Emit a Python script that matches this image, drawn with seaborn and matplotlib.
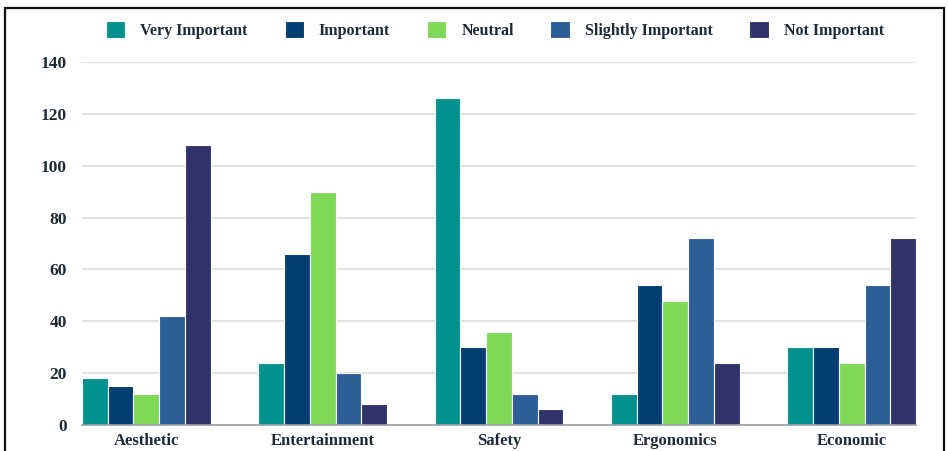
import matplotlib
matplotlib.use("Agg")
import matplotlib.pyplot as plt
from matplotlib.patches import Rectangle
import seaborn as sns
import pandas as pd

categories = ["Aesthetic", "Entertainment", "Safety", "Ergonomics", "Economic"]
levels = ["Very Important", "Important", "Neutral", "Slightly Important", "Not Important"]
very_important = [18, 24, 126, 12, 30]
important = [15, 66, 30, 54, 30]
neutral = [12, 90, 36, 48, 24]
slightly_important = [42, 20, 12, 72, 54]
not_important = [108, 8, 6, 24, 72]
colors = ["#00918F", "#013E71", "#7ED957", "#2E5E98", "#31346B"]

series = [very_important, important, neutral, slightly_important, not_important]
df = pd.DataFrame(
    [(c, lvl, v) for lvl, vals in zip(levels, series) for c, v in zip(categories, vals)],
    columns=["Category", "Level", "Count"],
)

sns.set_theme(style="white")
plt.rcParams["font.family"] = ["Liberation Serif", "DejaVu Serif"]

fig = plt.figure(figsize=(9.48, 4.51), dpi=100)
ax = fig.add_axes([82 / 948, 1 - 425 / 451, 834 / 948, 363 / 451])

sns.barplot(
    data=df, x="Category", y="Count", hue="Level", hue_order=levels,
    order=categories, palette=colors, width=0.73, ax=ax,
    edgecolor="white", linewidth=0.8, saturation=1, legend=True,
)

ax.set_xlim(-0.365, 4.365)
ax.set_ylim(0, 140)
ax.set_yticks(range(0, 141, 20))
ax.yaxis.grid(True, color="#D9DCDF", linewidth=1.2)
ax.set_axisbelow(True)
for s in ["top", "right", "left"]:
    ax.spines[s].set_visible(False)
ax.spines["bottom"].set_color("#9A9EA3")
ax.spines["bottom"].set_linewidth(1.2)
ax.set_xlabel("")
ax.set_ylabel("")
ax.tick_params(axis="both", length=0, labelcolor="#1F2A37")
ax.tick_params(axis="y", pad=11, labelsize=12.5)
ax.tick_params(axis="x", pad=6, labelsize=12)
for lab in ax.get_xticklabels() + ax.get_yticklabels():
    lab.set_fontweight("bold")

handles, labels = ax.get_legend_handles_labels()
ax.get_legend().remove()
leg = fig.legend(
    handles, labels, loc="center", bbox_to_anchor=(495 / 948, 1 - 30 / 451),
    ncol=5, frameon=False, handlelength=1.2, handleheight=1.25,
    columnspacing=2.3, handletextpad=0.95,
    prop={"family": ["Liberation Serif"], "weight": "bold", "size": 11.5},
)
for t in leg.get_texts():
    t.set_color("#1F2A37")

fig.patches.append(Rectangle(
    (5 / 948, -0.05), 939 / 948, 1.05 - 8 / 451,
    transform=fig.transFigure, fill=False, edgecolor="#111111", linewidth=1.6,
))

fig.savefig("out.png", dpi=100)
